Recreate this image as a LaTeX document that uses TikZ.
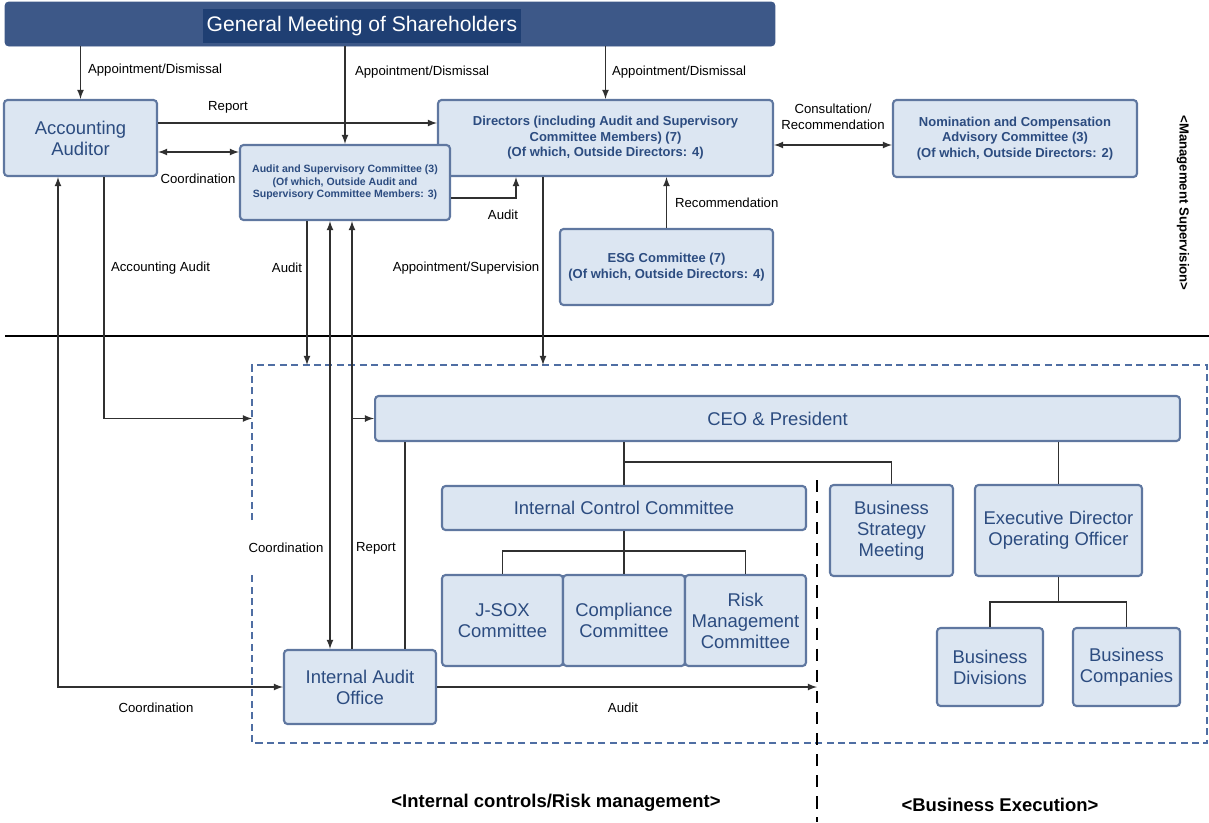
\documentclass[tikz,border=0pt]{standalone}
\usepackage{fontspec}
\setmainfont{Liberation Sans}
\usetikzlibrary{arrows}
\definecolor{fondboite}{HTML}{DCE6F2}
\definecolor{bordboite}{HTML}{5F77A0}
\definecolor{texteboite}{HTML}{2C4C80}
\definecolor{bandeau}{HTML}{3D5888}
\definecolor{bandeautexte}{HTML}{1F3F73}
\definecolor{trait}{HTML}{303030}
\definecolor{cadre}{HTML}{4F6EA3}
\begin{document}
\begin{tikzpicture}[x=0.02cm,y=-0.02cm]
	% Styles
	\tikzstyle{boite}=[draw=bordboite, fill=fondboite, line width=1.2pt, rounded corners=2pt, text=texteboite, align=center, inner sep=2pt, font=\fontsize{10.5}{12}\selectfont]
	\tikzstyle{boitegras}=[boite, font=\bfseries\fontsize{7.4}{8.8}\selectfont]
	\tikzstyle{fleche}=[->,>=latex,line width=0.8pt,draw=trait]
	\tikzstyle{flechedouble}=[<->,>=latex,line width=0.8pt,draw=trait]
	\tikzstyle{lien}=[-,line width=0.8pt,draw=trait]
	\tikzstyle{commentaire}=[black, inner sep=1pt, align=center, font=\fontsize{7.5}{9}\selectfont]
	\tikzstyle{rubrique}=[black, font=\bfseries\fontsize{10.5}{12}\selectfont]
	\useasboundingbox (0,0) rectangle (1209,822);
	% Repères
	\coordinate (xCA) at (58,0);
	\coordinate (xAC) at (104,0);
	\coordinate (xAu) at (307,0);
	\coordinate (xCo) at (330,0);
	\coordinate (xRe) at (352,0);
	\coordinate (xPdg) at (405,0);
	\coordinate (xAud) at (516,0);
	\coordinate (xNom) at (543,0);
	\coordinate (yRep) at (0,123);
	\coordinate (yCoo) at (0,152);
	\coordinate (yCons) at (0,145);
	\coordinate (yAud) at (0,198);
	\coordinate (yB) at (0,462);
	\coordinate (ySous) at (0,551);
	\coordinate (yDiv) at (0,602);
	\coordinate (Zno) at (252,365);
	\coordinate (Zse) at (1207,743);
	\coordinate (Sep) at (817,480);
	\coordinate (SepS) at (817,822);
	% Cadres et séparations
	\draw[black, line width=1.4pt] (5,336) -- (1209,336);
	\draw[cadre, line width=1.3pt, dash pattern=on 4pt off 2.5pt] (252,520) -- (Zno) -- (Zno -| Zse) -- (Zse) -- (Zse -| Zno) -- (252,575);
	\draw[black, line width=1.5pt, dash pattern=on 7pt off 5pt] (Sep) -- (SepS);
	% Noeuds
	\node[draw=bandeau, fill=bandeau, rounded corners=2pt, minimum width=15.4cm, minimum height=0.88cm] (AG) at (390,24) {};
	\node[fill=bandeautexte, text=white, inner xsep=2pt, inner ysep=4pt, font=\fontsize{12}{14}\selectfont] (AGt) at (362,26) {General Meeting of Shareholders};
	\node[boite, minimum width=3.06cm, minimum height=1.52cm] (AA) at (80.5,138) {Accounting\\Auditor};
	\node[boitegras, minimum width=6.7cm, minimum height=1.52cm] (DIR) at (605.5,138) {Directors (including Audit and Supervisory\\Committee Members) (7)\\(Of which, Outside Directors: 4)};
	\node[boitegras, minimum width=4.2cm, minimum height=1.5cm, font=\bfseries\fontsize{6}{7}\selectfont] (ASC) at (345,182.5) {Audit and Supervisory Committee (3)\\(Of which, Outside Audit and\\Supervisory Committee Members: 3)};
	\node[boitegras, minimum width=4.88cm, minimum height=1.54cm] (NCC) at (1015,138.5) {Nomination and Compensation\\Advisory Committee (3)\\(Of which, Outside Directors: 2)};
	\node[boitegras, minimum width=4.26cm, minimum height=1.52cm] (ESG) at (666.5,267) {ESG Committee (7)\\(Of which, Outside Directors: 4)};
	\node[boite, minimum width=16.1cm, minimum height=0.9cm] (CEO) at (777.5,418.5) {CEO \& President};
	\node[boite, minimum width=7.28cm, minimum height=0.88cm] (ICC) at (624,508) {Internal Control Committee};
	\node[boite, minimum width=2.42cm, minimum height=1.82cm] (JSOX) at (502.5,620.5) {J-SOX\\Committee};
	\node[boite, minimum width=2.44cm, minimum height=1.82cm] (COMP) at (624,620.5) {Compliance\\Committee};
	\node[boite, minimum width=2.42cm, minimum height=1.82cm] (RISK) at (745.5,620.5) {Risk\\Management\\Committee};
	\node[boite, minimum width=2.46cm, minimum height=1.82cm] (BSM) at (891.5,530.5) {Business\\Strategy\\Meeting};
	\node[boite, minimum width=3.34cm, minimum height=1.82cm] (EXE) at (1058.5,530.5) {Executive Director\\Operating Officer};
	\node[boite, minimum width=2.12cm, minimum height=1.56cm] (BD) at (990,667) {Business\\Divisions};
	\node[boite, minimum width=2.14cm, minimum height=1.56cm] (BC) at (1126.5,667) {Business\\Companies};
	\node[boite, minimum width=3.04cm, minimum height=1.48cm] (IAO) at (360,687) {Internal Audit\\Office};
	% Commentaires
	\node[commentaire, anchor=west] (L1) at (86,70) {Appointment/Dismissal};
	\node[commentaire, anchor=west] (L2) at (353,72) {Appointment/Dismissal};
	\node[commentaire, anchor=west] (L3) at (610,72) {Appointment/Dismissal};
	\node[commentaire] (L4) at (228,107) {Report};
	\node[commentaire] (L5) at (198,179) {Coordination};
	\node[commentaire] (L6) at (833,117) {Consultation/\\Recommendation};
	\node[commentaire] (L7) at (503,215) {Audit};
	\node[commentaire, anchor=west] (L8) at (673,203) {Recommendation};
	\node[commentaire, anchor=west] (L9) at (109,268) {Accounting Audit};
	\node[commentaire] (L10) at (287,268) {Audit};
	\node[commentaire] (L11) at (466,268) {Appointment/Supervision};
	\node[commentaire] (L12) at (286,548) {Coordination};
	\node[commentaire] (L13) at (376,548) {Report};
	\node[commentaire] (L14) at (156,708) {Coordination};
	\node[commentaire] (L15) at (623,708) {Audit};
	\node[rubrique] (R1) at (556,803) {<Internal controls/Risk management>};
	\node[rubrique] (R2) at (1000,805) {<Business Execution>};
	\node[rubrique, rotate=-90, font=\bfseries\fontsize{7.5}{9}\selectfont] (R3) at (1183,203) {<Management Supervision>};
	% Arcs
	\draw[fleche] (AG.south -| AA) -- (AA.north);
	\draw[fleche] (AG.south -| ASC) -- (ASC.north);
	\draw[fleche] (AG.south -| DIR) -- (DIR.north);
	\draw[fleche] (AA.east |- yRep) -- (DIR.west |- yRep);
	\draw[flechedouble] (AA.east |- yCoo) -- (ASC.west |- yCoo);
	\draw[fleche] (ASC.east |- yAud) -| (DIR.south -| xAud);
	\draw[flechedouble] (DIR.east |- yCons) -- (NCC.west |- yCons);
	\draw[fleche] (ESG.north) -- (ESG.north |- DIR.south);
	\draw[fleche] (AA.south -| xAC) |- (Zno |- CEO.west);
	\draw[fleche] (ASC.south -| xAu) -- (xAu |- Zno);
	\draw[flechedouble] (ASC.south -| xCo) -- (IAO.north -| xCo);
	\draw[fleche] (IAO.north -| xRe) -- (ASC.south -| xRe);
	\draw[fleche] (xRe |- CEO.west) -- (CEO.west);
	\draw[lien] (CEO.south -| xPdg) -- (IAO.north -| xPdg);
	\draw[fleche] (DIR.south -| xNom) -- (xNom |- Zno);
	\draw[flechedouble] (AA.south -| xCA) |- (IAO.west);
	\draw[fleche] (IAO.east) -- (IAO.east -| Sep);
	% Organigramme
	\draw[lien] (CEO.south -| ICC) -- (ICC.north);
	\draw[lien] (ICC.north |- yB) -| (BSM.north);
	\draw[lien] (CEO.south -| EXE) -- (EXE.north);
	\draw[lien] (ICC.south) -- (COMP.north);
	\draw[lien] (JSOX.north) -- (JSOX.north |- ySous) -- (RISK.north |- ySous) -- (RISK.north);
	\draw[lien] (EXE.south) -- (EXE.south |- yDiv);
	\draw[lien] (BD.north) -- (BD.north |- yDiv) -- (BC.north |- yDiv) -- (BC.north);
\end{tikzpicture}
\end{document}
